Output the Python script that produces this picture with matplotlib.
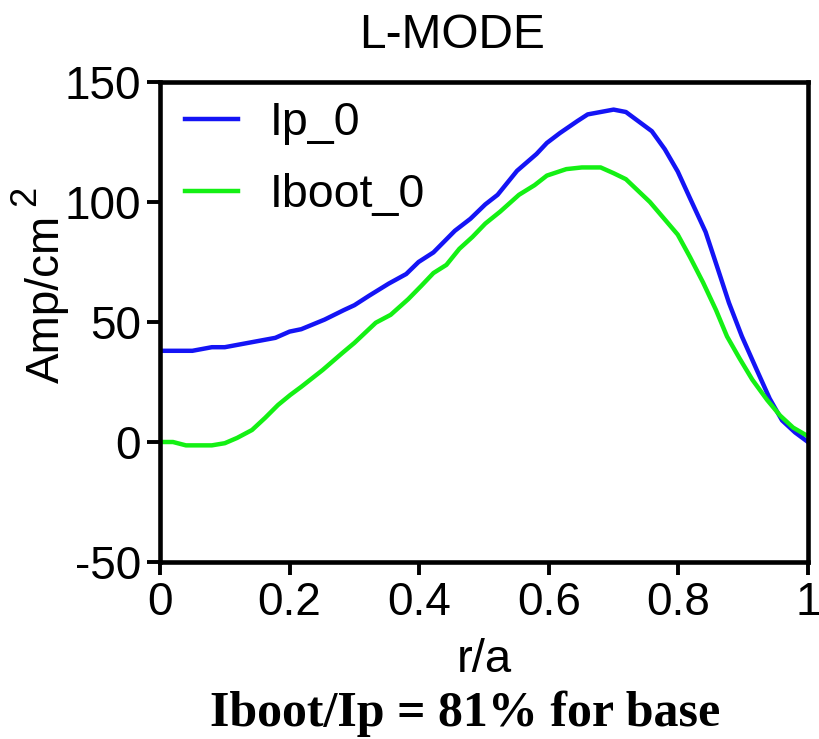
import matplotlib.pyplot as plt

r_ip = [0.0, 0.050, 0.080, 0.100, 0.150, 0.178, 0.200, 0.218, 0.254, 0.284, 0.300,
        0.323, 0.353, 0.380, 0.399, 0.422, 0.455, 0.479, 0.502, 0.521, 0.551,
        0.581, 0.597, 0.617, 0.644, 0.660, 0.700, 0.719, 0.759, 0.779, 0.799,
        0.818, 0.842, 0.861, 0.878, 0.898, 0.921, 0.941, 0.960, 0.980, 1.0]
ip_0 = [38, 38, 39.5, 39.5, 42, 43.4, 46, 47, 51, 55, 57,
        61, 66, 70, 75, 79, 88, 93, 99, 103, 113,
        120, 124.6, 128.7, 133.7, 136.5, 138.5, 137.5, 129.5, 122, 112.7,
        101.5, 87.5, 72, 58, 44, 30, 18, 9, 4, 0]

r_boot = [0.0, 0.020, 0.040, 0.080, 0.100, 0.119, 0.142, 0.162, 0.182, 0.201,
          0.218, 0.251, 0.281, 0.300, 0.333, 0.356, 0.383, 0.403, 0.422, 0.442,
          0.462, 0.482, 0.502, 0.525, 0.554, 0.578, 0.597, 0.627, 0.651, 0.680,
          0.700, 0.719, 0.756, 0.799, 0.818, 0.838, 0.858, 0.875, 0.894, 0.914,
          0.937, 0.957, 0.977, 1.0]
iboot_0 = [0, 0, -1.4, -1.4, -0.5, 1.7, 5, 10, 15.4, 19.6,
           23, 30, 37, 41.3, 49.7, 53, 59.5, 65, 70.4, 73.8,
           80.5, 85.4, 91, 96, 103, 107, 111, 113.7, 114.4, 114.4,
           112, 109.5, 100, 86.4, 77, 66.5, 55, 44, 35, 26,
           17.5, 11, 6, 2.4]

x_ticks = [0, 0.2, 0.4, 0.6, 0.8, 1]
x_labels = ['0', '0.2', '0.4', '0.6', '0.8', '1']
y_ticks = [-50, 0, 50, 100, 150]
y_labels = ['-50', '0', '50', '100', '150']

plt.rcParams['font.family'] = ['Liberation Sans', 'DejaVu Sans']

W, H = 820, 739
fig = plt.figure(figsize=(W / 100, H / 100), dpi=100)
ax = fig.add_axes([160 / W, 1 - 562 / H, 648 / W, 480 / H])

ax.plot(r_ip, ip_0, color='#1414f5', lw=3.2, label='Ip_0')
ax.plot(r_boot, iboot_0, color='#14f014', lw=3.2, label='Iboot_0')

ax.set_xlim(0, 1)
ax.set_ylim(-50, 150)
ax.set_xticks(x_ticks)
ax.set_xticklabels(x_labels)
ax.set_yticks(y_ticks)
ax.set_yticklabels(y_labels)
ax.tick_params(direction='out', length=9.5, width=2.8, labelsize=33, pad=4)
for s in ax.spines.values():
    s.set_linewidth(3.3)

ax.legend(loc='upper left', bbox_to_anchor=(0.0315, 0.97), fontsize=33.5,
          frameon=False, handlelength=1.14, handletextpad=0.69,
          labelspacing=0.6, borderpad=0.1, borderaxespad=0)

# texts placed in figure pixels
fig.text(452 / W, 1 - 35 / H, 'L-MODE', ha='center', va='center', fontsize=34.5)
fig.text(484 / W, 1 - 660 / H, 'r/a', ha='center', va='center', fontsize=34)
fig.text(47 / W, 1 - 299 / H, 'Amp/cm', ha='center', va='center',
         rotation=90, fontsize=33)
fig.text(26 / W, 1 - 196 / H, '2', ha='center', va='center',
         rotation=90, fontsize=26)
fig.text(465 / W, 1 - 714 / H, 'Iboot/Ip = 81% for base', ha='center',
         va='center', fontsize=36, fontweight='bold', family='Liberation Serif')

fig.savefig('out.png', dpi=100)
